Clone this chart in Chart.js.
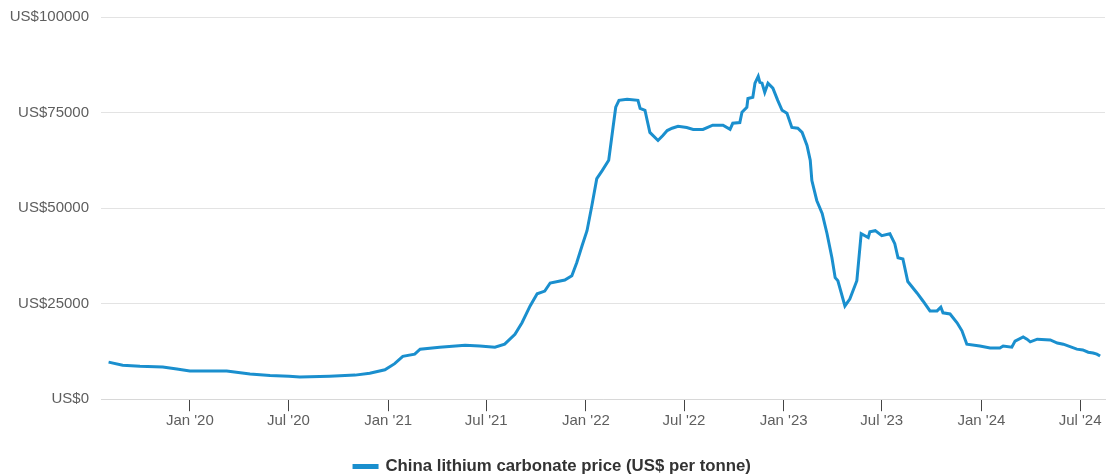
<!DOCTYPE html>
<html>
<head>
<meta charset="utf-8">
<script src="https://cdn.jsdelivr.net/npm/chart.js@4"></script>
<style>
  html, body { margin: 0; padding: 0; background: #fff; }
  #wrap { width: 1107px; height: 475px; }
</style>
</head>
<body>
<div id="wrap"><canvas id="lithiumChart"></canvas></div>
<script>
const priceDates = [
  '2019-08-04', '2019-08-30', '2019-10-01', '2019-11-12', '2019-12-08', '2020-01-01',
  '2020-03-09', '2020-04-21', '2020-05-28', '2020-07-02', '2020-07-22', '2020-09-15',
  '2020-11-01', '2020-11-28', '2020-12-26', '2021-01-13', '2021-01-28', '2021-02-19',
  '2021-03-01', '2021-04-06', '2021-05-23', '2021-06-19', '2021-07-17', '2021-08-04',
  '2021-08-23', '2021-09-05', '2021-09-20', '2021-10-03', '2021-10-17', '2021-10-27',
  '2021-11-23', '2021-12-06', '2021-12-15', '2021-12-25', '2022-01-03', '2022-01-12',
  '2022-01-21', '2022-01-31', '2022-02-12', '2022-02-20', '2022-02-25', '2022-03-03',
  '2022-03-18', '2022-04-07', '2022-04-11', '2022-04-20', '2022-04-24', '2022-04-29',
  '2022-05-14', '2022-05-23', '2022-05-31', '2022-06-09', '2022-06-20', '2022-07-06',
  '2022-07-18', '2022-08-05', '2022-08-23', '2022-09-11', '2022-09-24', '2022-09-29',
  '2022-10-12', '2022-10-16', '2022-10-25', '2022-10-27', '2022-11-05', '2022-11-09',
  '2022-11-15', '2022-11-18', '2022-11-22', '2022-11-27', '2022-12-03', '2022-12-12',
  '2022-12-21', '2022-12-29', '2023-01-07', '2023-01-16', '2023-01-27', '2023-02-04',
  '2023-02-13', '2023-02-19', '2023-02-22', '2023-03-03', '2023-03-13', '2023-03-22',
  '2023-03-31', '2023-04-06', '2023-04-11', '2023-04-24', '2023-05-03', '2023-05-16',
  '2023-05-24', '2023-06-06', '2023-06-09', '2023-06-19', '2023-07-01', '2023-07-16',
  '2023-07-25', '2023-07-31', '2023-08-09', '2023-08-18', '2023-09-04', '2023-09-15',
  '2023-09-28', '2023-10-11', '2023-10-18', '2023-10-22', '2023-11-04', '2023-11-17',
  '2023-11-26', '2023-12-05', '2023-12-29', '2024-01-17', '2024-02-04', '2024-02-10',
  '2024-02-26', '2024-03-03', '2024-03-18', '2024-03-25', '2024-03-31', '2024-04-13',
  '2024-05-07', '2024-05-20', '2024-05-31', '2024-06-25', '2024-07-06', '2024-07-16',
  '2024-07-25', '2024-08-01', '2024-08-07'
];
const priceValues = [
  9700, 8900, 8600, 8400, 7900, 7400,
  7350, 6600, 6200, 6000, 5800, 6000,
  6300, 6800, 7700, 9300, 11200, 11800,
  13100, 13600, 14100, 13900, 13600, 14400,
  17000, 20000, 24400, 27600, 28300, 30400,
  31200, 32300, 35700, 40200, 44100, 50700,
  57700, 59800, 62500, 71100, 76400, 78200,
  78500, 78200, 76100, 75600, 73000, 69800,
  67700, 69000, 70300, 70900, 71400, 71100,
  70600, 70600, 71700, 71700, 70600, 72200,
  72400, 75100, 76400, 78700, 79000, 82700,
  84500, 82900, 82700, 80300, 82700, 81400,
  78200, 75600, 74800, 71100, 70900, 69800,
  66400, 62500, 57200, 52000, 48600, 43300,
  37000, 31800, 31000, 24400, 26200, 31000,
  43300, 42300, 43800, 44100, 42800, 43300,
  40700, 37000, 36700, 30800, 27800, 25700,
  23100, 23100, 24100, 22600, 22300, 20000,
  17900, 14400, 13900, 13400, 13400, 13900,
  13600, 15200, 16300, 15700, 15000, 15700,
  15500, 14700, 14400, 13100, 12900, 12300,
  12100, 11800, 11300
];

// x-axis ticks
const tickDates = ['2020-01-01', '2020-07-01', '2021-01-01', '2021-07-01', '2022-01-01',
                   '2022-07-01', '2023-01-01', '2023-07-01', '2024-01-01', '2024-07-01'];
const tickLabels = ["Jan '20", "Jul '20", "Jan '21", "Jul '21", "Jan '22",
                    "Jul '22", "Jan '23", "Jul '23", "Jan '24", "Jul '24"];
const yTicks = [0, 25000, 50000, 75000, 100000];

const seriesName = 'China lithium carbonate price (US$ per tonne)';

// days since 1 Jan 2020
const base = Date.UTC(2020, 0, 1);
function toDay(s) {
  const p = s.split('-').map(Number);
  return (Date.UTC(p[0], p[1] - 1, p[2]) - base) / 86400000;
}

const points = priceDates.map((d, i) => ({ x: toDay(d), y: priceValues[i] }));
const tickDays = tickDates.map(toDay);

const lineBlue = '#1a8fce';
const fontFamily = 'Arial, "Liberation Sans", sans-serif';

// the legend adds 10px of empty space under itself; drop it so it sits lower
const tightLegend = {
  id: 'tightLegend',
  beforeUpdate(chart) {
    const lg = chart.legend;
    if (lg && !lg._tight) {
      const fit = lg.fit.bind(lg);
      lg.fit = function () { fit(); this.height -= 10; };
      lg._tight = true;
    }
  }
};

new Chart(document.getElementById('lithiumChart'), {
  type: 'line',
  data: {
    datasets: [{
      label: seriesName,
      data: points,
      borderColor: lineBlue,
      backgroundColor: lineBlue,
      borderWidth: 3,
      pointRadius: 0,
      tension: 0,
      fill: false
    }]
  },
  plugins: [tightLegend],
  options: {
    responsive: true,
    maintainAspectRatio: false,
    animation: false,
    layout: { padding: { left: 0, right: 2, top: 0, bottom: 0 } },
    plugins: {
      tooltip: { enabled: false },
      legend: {
        position: 'bottom',
        labels: {
          color: '#333',
          font: { family: fontFamily, size: 16.8, weight: 'bold' },
          boxWidth: 23,
          boxHeight: 2,
          padding: 2
        }
      }
    },
    scales: {
      x: {
        type: 'linear',
        min: toDay('2019-07-21'),
        max: toDay('2024-08-16'),
        afterBuildTicks: axis => { axis.ticks = tickDays.map(v => ({ value: v })); },
        afterFit: axis => { axis.height = 57; },
        grid: {
          drawOnChartArea: false,
          drawTicks: true,
          tickLength: 12,
          tickColor: '#444'
        },
        border: { display: true, color: '#d8d8d8' },
        ticks: {
          autoSkip: false,
          maxRotation: 0,
          padding: 1,
          color: '#5e5e5e',
          font: { family: fontFamily, size: 15 },
          callback: (v, i) => tickLabels[i]
        }
      },
      y: {
        min: 0,
        max: 100000,
        afterBuildTicks: axis => { axis.ticks = yTicks.map(v => ({ value: v })); },
        afterFit: axis => { axis.width = 101; },
        grid: { color: '#e3e3e3', drawTicks: false },
        border: { display: false },
        ticks: {
          padding: 12,
          color: '#5e5e5e',
          font: { family: fontFamily, size: 15, lineHeight: 0.67 },
          callback: v => 'US$' + v
        }
      }
    }
  }
});
</script>
</body>
</html>
